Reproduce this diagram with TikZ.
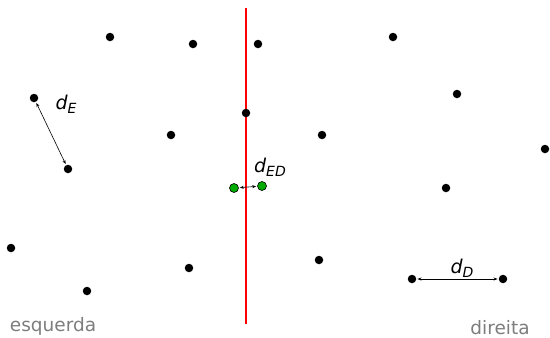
\documentclass[tikz,border=0pt]{standalone}
\usepackage{fontspec}
\setmainfont{DejaVu Sans}
\usetikzlibrary{arrows.meta}
\newcommand{\dlab}[1]{\itshape d\raisebox{-0.35ex}{\fontsize{14}{14}\selectfont #1}}
\begin{document}
\begin{tikzpicture}[x=1pt,y=-1pt,
  pt/.style={circle,fill=black,inner sep=0pt,minimum size=8.5pt},
  gpt/.style={circle,fill={rgb,255:red,0;green,170;blue,0},draw=black,line width=0.6pt,inner sep=0pt,minimum size=9pt},
  dist/.style={line width=0.6pt,{Stealth[length=4pt,width=3pt]}-{Stealth[length=4pt,width=3pt]},shorten <=1pt,shorten >=1pt},
  lbl/.style={font=\fontsize{19}{21}\selectfont},
  side/.style={font=\fontsize{18.5}{20}\selectfont,text={rgb,255:red,125;green,125;blue,125}}]
\useasboundingbox (0,0) rectangle (550,338);
\coordinate (rt) at (246,8);
\coordinate (rb) at (246,324);
\draw[red,line width=1.2pt] (rt) -- (rb);
\node[pt] (p1) at (110,37) {};
\node[pt] (p2) at (193,44) {};
\node[pt] (p3) at (258,44) {};
\node[pt] (p4) at (393,37) {};
\node[pt] (p5) at (34,98) {};
\node[pt] (p6) at (68,169) {};
\node[pt] (p7) at (246,113) {};
\node[pt] (p8) at (171,135) {};
\node[pt] (p9) at (322,135) {};
\node[pt] (p10) at (457,94) {};
\node[pt] (p11) at (545,149) {};
\node[pt] (p12) at (446,188) {};
\node[pt] (p14) at (11,248) {};
\node[pt] (p15) at (87,291) {};
\node[pt] (p16) at (189,268) {};
\node[pt] (p17) at (319,260) {};
\node[pt] (p18) at (412,279) {};
\node[pt] (p19) at (503,279) {};
\node[gpt] (g1) at (234,188) {};
\node[gpt] (g2) at (262,186) {};
\draw[dist] (p5) -- (p6);
\draw[dist] (p18) -- (p19);
\draw[dist] (g1) -- (g2);
\node[lbl] (lE) at (66,104) {\dlab{E}};
\node[lbl] (lED) at (270,167) {\dlab{ED}};
\node[lbl] (lD) at (462,268) {\dlab{D}};
\node[side] (esq) at (53,326) {esquerda};
\node[side] (dir) at (500,328) {direita};
\end{tikzpicture}
\end{document}
